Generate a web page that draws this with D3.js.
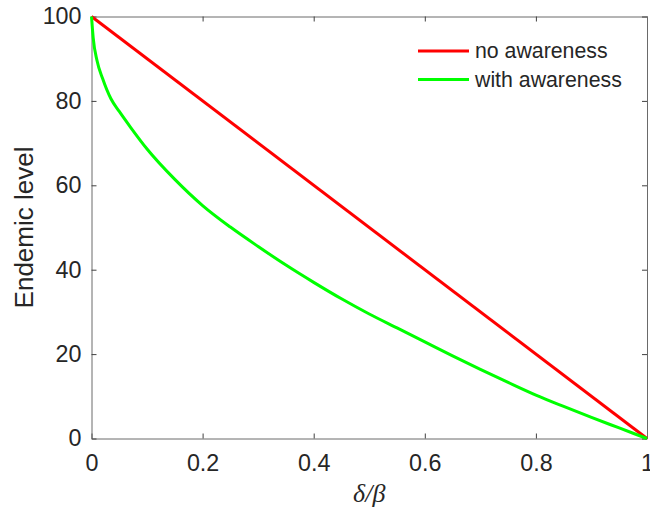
<!DOCTYPE html>
<html>
<head>
<meta charset="utf-8">
<script src="https://cdn.jsdelivr.net/npm/d3@7"></script>
<style>
  body { margin: 0; background: #fff; }
  svg { display: block; font-family: "Liberation Sans", Arial, sans-serif; }
</style>
</head>
<body>
<svg id="chart" width="650" height="512"></svg>
<script>
// data
const ratio = [0, 0.003, 0.01, 0.02, 0.035, 0.05, 0.07, 0.1, 0.15, 0.2, 0.25, 0.3, 0.35, 0.4, 0.45, 0.5, 0.55, 0.6, 0.65, 0.7, 0.75, 0.8, 0.85, 0.9, 0.95, 1]
const withAwareness = [100, 95, 89.5, 85.3, 80.5, 77.5, 73.8, 68.6, 61.4, 55.2, 50.1, 45.5, 41.1, 37.0, 33.1, 29.5, 26.2, 22.9, 19.6, 16.4, 13.3, 10.3, 7.6, 5.0, 2.5, 0]
const noAwarenessX = [0, 1]
const noAwareness = [100, 0]
const xTicks = [0, 0.2, 0.4, 0.6, 0.8, 1]
const yTicks = [0, 20, 40, 60, 80, 100]
const seriesNames = ['no awareness', 'with awareness']
const seriesColors = ['#ff0000', '#00ff00']

const margin = { left: 91.5, right: 3, top: 16.5, bottom: 73.5 }
const size = { width: 650, height: 512 }
const w = size.width - margin.left - margin.right
const h = size.height - margin.top - margin.bottom
const textColor = '#262626'
const axisColor = '#6a6a6a'

const svg = d3.select('#chart')
const g = svg.append('g').attr('transform', `translate(${margin.left},${margin.top})`)

const x = d3.scaleLinear().domain([0, 1]).range([0, w])
const y = d3.scaleLinear().domain([0, 100]).range([h, 0])

// ticks pointing inward, on all four sides (matlab box)
const tickLen = 5
const xb = g.append('g').attr('transform', `translate(0,${h})`)
    .call(d3.axisBottom(x).tickValues(xTicks).tickSizeInner(-tickLen).tickSizeOuter(0).tickPadding(12)
        .tickFormat(d => d === 0 || d === 1 ? d3.format('d')(d) : d3.format('.1f')(d)))
const yl = g.append('g')
    .call(d3.axisLeft(y).tickValues(yTicks).tickSizeInner(-tickLen).tickSizeOuter(0).tickPadding(10))
const xt = g.append('g')
    .call(d3.axisTop(x).tickValues(xTicks).tickSizeInner(-tickLen).tickSizeOuter(0).tickFormat(''))
const yr = g.append('g').attr('transform', `translate(${w},0)`)
    .call(d3.axisRight(y).tickValues(yTicks).tickSizeInner(-tickLen).tickSizeOuter(0).tickFormat(''))

for (const ax of [xb, yl, xt, yr]) {
    ax.select('.domain').attr('stroke', axisColor).attr('stroke-width', 1)
    ax.selectAll('.tick line').attr('stroke', '#404040').attr('stroke-width', 1)
    ax.selectAll('.tick text').attr('fill', textColor).style('font-size', '23.3px')
        .style('font-family', '"Liberation Sans", Arial, sans-serif')
}
xb.selectAll('.tick text').attr('dy', '0.9em')

// lines
const line = d3.line().x(d => x(d[0])).y(d => y(d[1])).curve(d3.curveMonotoneX)
g.append('path')
    .datum(noAwarenessX.map((v, i) => [v, noAwareness[i]]))
    .attr('fill', 'none').attr('stroke', seriesColors[0]).attr('stroke-width', 3)
    .attr('d', line)
g.append('path')
    .datum(ratio.map((v, i) => [v, withAwareness[i]]))
    .attr('fill', 'none').attr('stroke', seriesColors[1]).attr('stroke-width', 3)
    .attr('stroke-linejoin', 'round')
    .attr('d', line)

// legend
const legend = svg.append('g')
seriesNames.forEach((name, i) => {
    const ly = 51 + i * 28.6
    legend.append('line')
        .attr('x1', 418).attr('x2', 469).attr('y1', ly).attr('y2', ly)
        .attr('stroke', seriesColors[i]).attr('stroke-width', 3)
    legend.append('text')
        .attr('x', 475).attr('y', ly).attr('dy', '0.35em')
        .attr('fill', textColor).style('font-size', '21.3px')
        .text(name)
})

// axis labels
svg.append('text')
    .attr('transform', `translate(32.5,${margin.top + h / 2}) rotate(-90)`)
    .attr('text-anchor', 'middle')
    .attr('fill', textColor).style('font-size', '26px')
    .text('Endemic level')

svg.append('text')
    .attr('x', margin.left + w / 2).attr('y', 502)
    .attr('text-anchor', 'middle')
    .attr('fill', textColor)
    .style('font-size', '26px').style('font-style', 'italic')
    .style('font-family', '"Liberation Serif", "Times New Roman", serif')
    .text('δ/β')
</script>
</body>
</html>
